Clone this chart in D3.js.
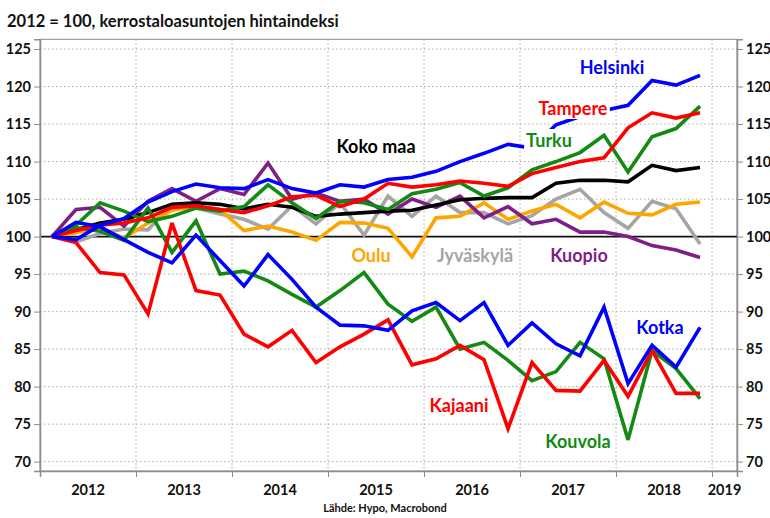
<!DOCTYPE html>
<html>
<head>
<meta charset="utf-8">
<script src="https://cdn.jsdelivr.net/npm/d3@7"></script>
<style>
  body { margin: 0; background: #fff; }
  text { font-family: Lato, "Open Sans", sans-serif; font-weight: bold; }
</style>
</head>
<body>
<div id="chart"></div>
<script>
var quarters = ["2012Q1","2012Q2","2012Q3","2012Q4","2013Q1","2013Q2","2013Q3","2013Q4",
                "2014Q1","2014Q2","2014Q3","2014Q4","2015Q1","2015Q2","2015Q3","2015Q4",
                "2016Q1","2016Q2","2016Q3","2016Q4","2017Q1","2017Q2","2017Q3","2017Q4",
                "2018Q1","2018Q2","2018Q3","2018Q4"];

var helsinki   = [100, 99.6, 101.5, 102.4, 104.6, 106.0, 107.0, 106.5, 106.4, 107.6, 106.4, 105.8, 106.9, 106.6,
                  107.6, 107.9, 108.7, 110.0, 111.1, 112.3, 111.8, 114.9, 116.0, 116.8, 117.5, 120.8, 120.2, 121.5];
var tampere    = [100, 100.8, 101.5, 101.8, 102.5, 103.9, 104.1, 103.6, 103.2, 104.1, 105.3, 105.5, 104.0, 105.0,
                  107.1, 106.6, 106.9, 107.4, 107.1, 106.7, 108.4, 109.2, 110.0, 110.5, 114.5, 116.5, 115.8, 116.5];
var turku      = [100, 101.5, 104.5, 103.4, 102.0, 102.7, 103.8, 103.4, 104.0, 106.9, 104.5, 102.4, 104.7, 104.5,
                  103.6, 105.7, 106.3, 107.2, 105.4, 106.5, 108.9, 110.0, 111.2, 113.5, 108.6, 113.3, 114.4, 117.4];
var kokoMaa    = [100, 100.9, 101.8, 102.3, 103.2, 104.3, 104.5, 104.3, 103.7, 104.3, 103.9, 102.7, 103.0, 103.2,
                  103.4, 103.5, 104.2, 104.9, 105.1, 105.2, 105.2, 107.1, 107.5, 107.5, 107.3, 109.5, 108.8, 109.2];
var oulu       = [100, 100.5, 101.2, 99.8, 101.8, 103.5, 104.0, 103.6, 100.8, 101.4, 100.6, 99.5, 101.9, 101.8,
                  101.1, 97.3, 102.5, 102.7, 104.5, 102.3, 103.4, 104.3, 102.5, 104.6, 103.1, 102.9, 104.3, 104.6];
var jyvaskyla  = [100, 99.3, 100.4, 101.0, 100.9, 104.3, 103.8, 103.0, 102.3, 101.0, 104.1, 101.7, 104.5, 100.2,
                  105.4, 102.7, 105.4, 103.2, 103.2, 101.7, 102.8, 105.0, 106.3, 103.2, 101.1, 104.7, 103.7, 99.0];
var kuopio     = [100, 103.6, 103.9, 101.4, 104.7, 106.4, 104.7, 106.4, 105.6, 109.8, 105.0, 105.8, 104.7, 105.0,
                  103.0, 105.0, 103.9, 105.4, 102.5, 104.0, 101.7, 102.3, 100.6, 100.6, 100.0, 98.8, 98.2, 97.2];
var kotka      = [100, 101.9, 101.3, 99.6, 97.9, 96.5, 100.2, 96.8, 93.4, 97.6, 94.3, 90.6, 88.2, 88.1,
                  87.5, 90.1, 91.2, 88.8, 91.2, 85.5, 88.5, 85.7, 84.1, 90.6, 80.4, 85.5, 82.6, 87.9];
var kajaani    = [100, 99.2, 95.2, 94.9, 89.7, 101.8, 92.8, 92.2, 87.0, 85.3, 87.5, 83.2, 85.3, 87.0,
                  88.9, 82.9, 83.7, 85.5, 83.6, 74.4, 83.2, 79.5, 79.4, 83.5, 78.7, 84.8, 79.1, 79.1];
var kouvola    = [100, 101.2, 100.7, 99.5, 103.8, 97.9, 102.1, 95.0, 95.4, 94.1, 92.3, 90.6, 92.8, 95.2,
                  91.0, 88.7, 90.6, 85.0, 85.9, 83.5, 80.8, 82.0, 85.9, 83.7, 72.9, 84.8, 82.4, 78.4];

var yTicks = [70, 75, 80, 85, 90, 95, 100, 105, 110, 115, 120, 125];
var years = [2012, 2013, 2014, 2015, 2016, 2017, 2018, 2019];

function init(){
  // drawing order: first ones end up underneath
  var series = [
    {name: "Jyväskylä", values: jyvaskyla, color: "#a5a5a5", lx: 475, ly: 262},
    {name: "Oulu",      values: oulu,      color: "#ffa500", lx: 371, ly: 262},
    {name: "Kuopio",    values: kuopio,    color: "#7f1f86", lx: 579, ly: 262},
    {name: "Koko maa",  values: kokoMaa,   color: "#000000", lx: 376, ly: 153},
    {name: "Kouvola",   values: kouvola,   color: "#138a13", lx: 578, ly: 448},
    {name: "Turku",     values: turku,     color: "#138a13", lx: 549, ly: 147},
    {name: "Kajaani",   values: kajaani,   color: "#ff0000", lx: 459, ly: 412},
    {name: "Tampere",   values: tampere,   color: "#ff0000", lx: 573, ly: 115},
    {name: "Kotka",     values: kotka,     color: "#0000ff", lx: 660, ly: 334},
    {name: "Helsinki",  values: helsinki,  color: "#0000ff", lx: 612, ly: 74}
  ];

  var w = 770, h = 518;
  var pLeft = 40, pRight = 737, pTop = 39.3, pBottom = 471;

  var svg = d3.select("#chart").append("svg")
    .attr("width", w)
    .attr("height", h);

  var qTime = function(q){ return +q.slice(0, 4) + (+q.slice(5) - 0.5) / 4; };

  var xScale = d3.scaleLinear().domain([2012, 2019.26]).range([pLeft, pRight]);
  var yScale = d3.scaleLinear().domain([68.75, 126.3]).range([pBottom, pTop]);

  // title
  svg.append("text")
    .attr("x", 7).attr("y", 27)
    .style("font-size", "16.5px")
    .attr("fill", "#111")
    .text("2012 = 100, kerrostaloasuntojen hintaindeksi");

  // grid
  svg.append("g").selectAll("line")
    .data(yTicks.filter(function(d){ return d != 100; }))
    .enter().append("line")
    .attr("x1", pLeft).attr("x2", pRight)
    .attr("y1", function(d){ return yScale(d); })
    .attr("y2", function(d){ return yScale(d); })
    .attr("stroke", "#aaa").attr("stroke-width", 1)
    .attr("stroke-dasharray", "1.5,2.5");

  svg.append("g").selectAll("line")
    .data(years.slice(1))
    .enter().append("line")
    .attr("x1", function(d){ return xScale(d); })
    .attr("x2", function(d){ return xScale(d); })
    .attr("y1", pTop).attr("y2", pBottom)
    .attr("stroke", "#aaa").attr("stroke-width", 1)
    .attr("stroke-dasharray", "1.5,2.5");

  // frame
  svg.append("rect")
    .attr("x", pLeft).attr("y", pTop)
    .attr("width", pRight - pLeft).attr("height", pBottom - pTop)
    .attr("fill", "none").attr("stroke", "#8c8c8c").attr("stroke-width", 1);

  // 100 line
  svg.append("line")
    .attr("x1", pLeft).attr("x2", pRight)
    .attr("y1", yScale(100)).attr("y2", yScale(100))
    .attr("stroke", "#111").attr("stroke-width", 1.6);

  // axes
  var yLeft = d3.axisLeft(yScale).tickValues(yTicks).tickSize(6).tickPadding(3);
  var yRight = d3.axisRight(yScale).tickValues(yTicks).tickSize(6).tickPadding(3);
  var xAxis = d3.axisBottom(xScale).tickValues(years).tickSize(6).tickFormat("");

  svg.append("g").attr("class", "axis").attr("transform", "translate(" + pLeft + ",0)").call(yLeft);
  svg.append("g").attr("class", "axis").attr("transform", "translate(" + pRight + ",0)").call(yRight);
  svg.append("g").attr("class", "axis").attr("transform", "translate(0," + pBottom + ")").call(xAxis);

  svg.selectAll(".axis path").attr("stroke", "#8c8c8c").attr("stroke-width", 1.5);
  svg.selectAll(".axis line").attr("stroke", "#8c8c8c");
  svg.selectAll(".axis text").style("font-size", "14.5px").attr("fill", "#111");

  // year labels centred in each year
  svg.append("g").selectAll("text")
    .data(years)
    .enter().append("text")
    .attr("x", function(d){ return (xScale(d) + Math.min(xScale(d + 1), pRight)) / 2; })
    .attr("y", 495)
    .attr("text-anchor", "middle")
    .style("font-size", "14.5px")
    .attr("fill", "#111")
    .text(function(d){ return d; });

  // lines
  var line = d3.line()
    .x(function(d, i){ return xScale(qTime(quarters[i])); })
    .y(function(d){ return yScale(d); });

  svg.append("g").selectAll("path")
    .data(series)
    .enter().append("path")
    .attr("d", function(d){ return line(d.values); })
    .attr("fill", "none")
    .attr("stroke", function(d){ return d.color; })
    .attr("stroke-width", 3.6)
    .attr("stroke-linejoin", "miter")
    .attr("stroke-miterlimit", 3);

  // labels with white boxes
  var labels = svg.append("g").selectAll("g")
    .data(series)
    .enter().append("g");

  labels.append("rect").attr("fill", "#fff");
  labels.append("text")
    .attr("x", function(d){ return d.lx; })
    .attr("y", function(d){ return d.ly; })
    .attr("text-anchor", "middle")
    .style("font-size", "18px")
    .attr("fill", function(d){ return d.color; })
    .text(function(d){ return d.name; });

  labels.each(function(){
    var g = d3.select(this);
    var b = g.select("text").node().getBBox();
    g.select("rect")
      .attr("x", b.x - 2).attr("y", b.y)
      .attr("width", b.width + 4).attr("height", b.height);
  });

  // source
  svg.append("text")
    .attr("x", 385).attr("y", 512)
    .attr("text-anchor", "middle")
    .style("font-size", "11px")
    .attr("fill", "#111")
    .text("Lähde: Hypo, Macrobond");
}

window.onload = init;
</script>
</body>
</html>
